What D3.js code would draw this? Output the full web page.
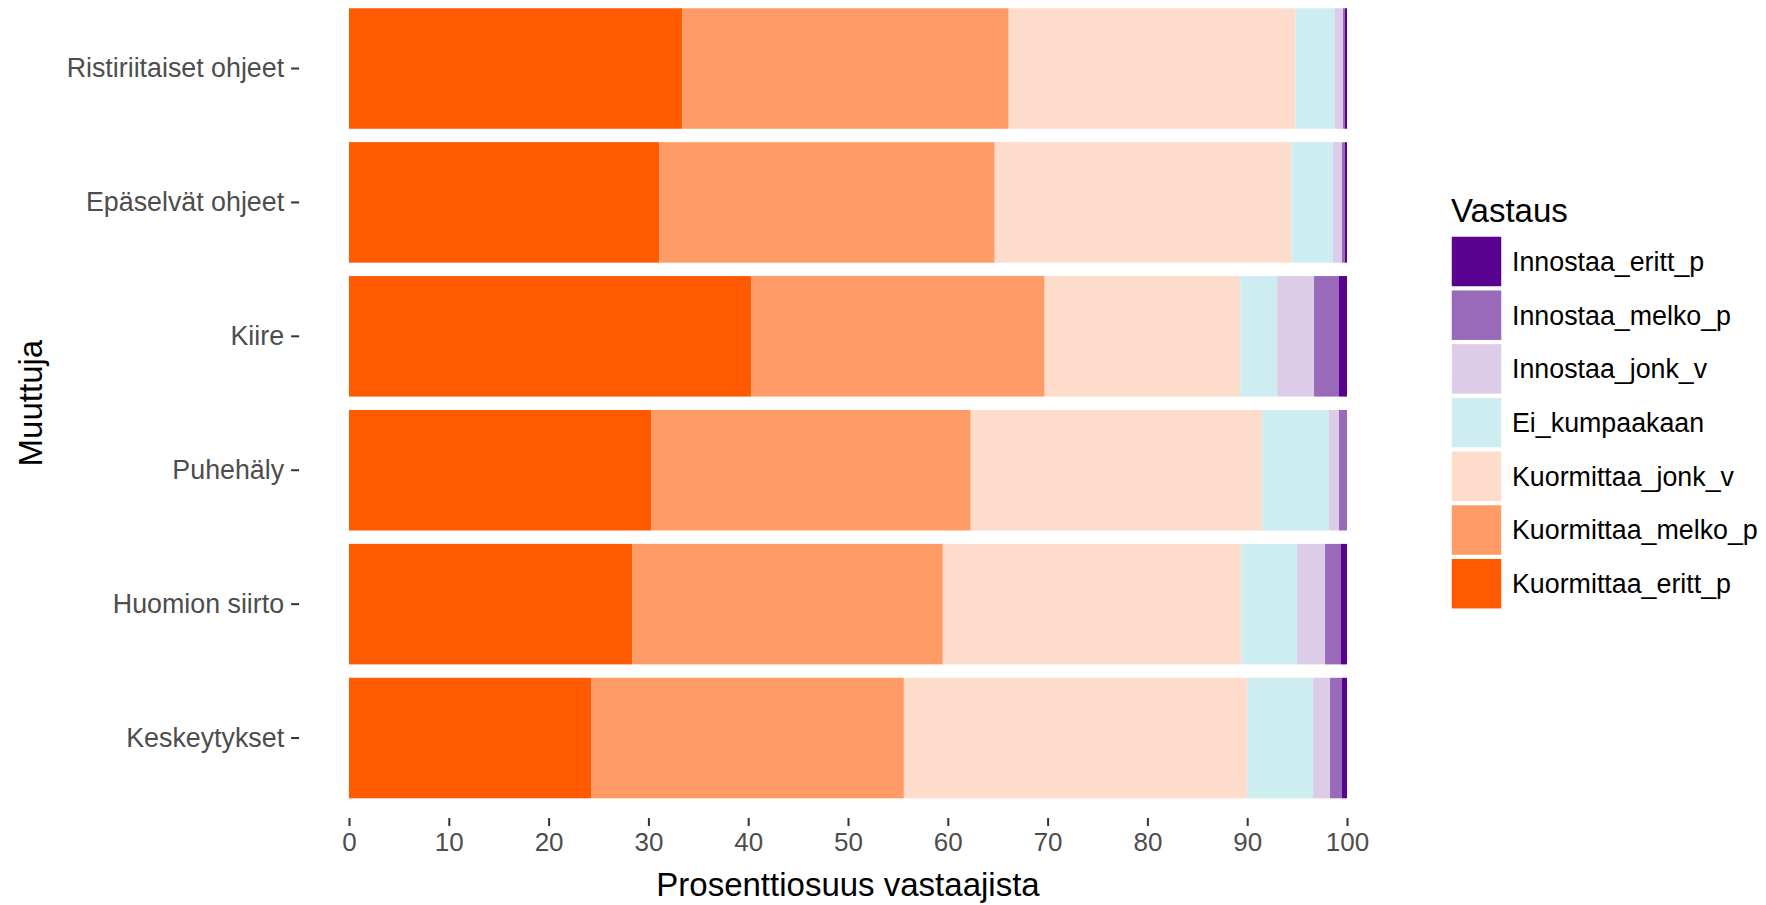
<!DOCTYPE html>
<html>
<head>
<meta charset="utf-8">
<script src="https://cdn.jsdelivr.net/npm/d3@7"></script>
<style>
  body { margin: 0; background: #fff; }
  svg text { font-family: "Liberation Sans", Arial, Helvetica, sans-serif; }
</style>
</head>
<body>
<div id="app"></div>
<script>
"use strict";

// categories, top to bottom
const categories = ["Ristiriitaiset ohjeet", "Epäselvät ohjeet", "Kiire", "Puhehäly", "Huomion siirto", "Keskeytykset"];

// series values (percent of respondents), same order as categories
const kuormittaaErittP = [33.4, 31.1, 40.3, 30.3, 28.4, 24.3];
const kuormittaaMelkoP = [32.7, 33.6, 29.4, 32.0, 31.1, 31.3];
const kuormittaaJonkV = [28.75, 29.75, 19.6, 29.2, 29.9, 34.4];
const eiKumpaakaan = [3.9, 4.15, 3.7, 6.7, 5.6, 6.6];
const innostaaJonkV = [0.85, 0.9, 3.7, 1.0, 2.8, 1.7];
const innostaaMelkoP = [0.2, 0.3, 2.5, 0.8, 1.6, 1.2];
const innostaaErittP = [0.2, 0.2, 0.8, 0.0, 0.6, 0.5];

// stacking order, left to right
const seriesNames = ["Kuormittaa_eritt_p", "Kuormittaa_melko_p", "Kuormittaa_jonk_v", "Ei_kumpaakaan",
    "Innostaa_jonk_v", "Innostaa_melko_p", "Innostaa_eritt_p"];
const seriesColors = ["#ff5a00", "#ff9b67", "#fedccb", "#cdedf1", "#ddcce8", "#9a6aba", "#590290"];
const xTicks = [0, 10, 20, 30, 40, 50, 60, 70, 80, 90, 100];

const seriesValues = [kuormittaaErittP, kuormittaaMelkoP, kuormittaaJonkV, eiKumpaakaan,
    innostaaJonkV, innostaaMelkoP, innostaaErittP];

const rows = categories.map((c, i) => {
    const row = { category: c };
    seriesNames.forEach((s, j) => { row[s] = seriesValues[j][i]; });
    return row;
});

const width = 1766, height = 905;
const svg = d3.select('#app').append('svg')
    .attr('width', width)
    .attr('height', height);

// ggplot-like panel with 5% expansion on x
const x = d3.scaleLinear().domain([0, 100]).range([349, 1347]);
const panelLeft = x(-5), panelBottom = 818;

const y = d3.scaleBand()
    .domain(categories)
    .range([1.55, 805])
    .paddingInner(0.1)
    .paddingOuter(0.05);

const color = d3.scaleOrdinal().domain(seriesNames).range(seriesColors);

const stacked = d3.stack().keys(seriesNames)(rows);

// Bars
svg.append('g')
    .selectAll('g')
    .data(stacked)
    .join('g')
    .attr('fill', d => color(d.key))
    .selectAll('rect')
    .data(d => d)
    .join('rect')
    .attr('x', d => x(d[0]))
    .attr('y', d => y(d.data.category))
    .attr('width', d => Math.max(0, x(d[1]) - x(d[0])))
    .attr('height', y.bandwidth());

// X axis
const xAxis = svg.append('g')
    .attr('transform', `translate(0,${panelBottom})`)
    .call(d3.axisBottom(x).tickValues(xTicks).tickSize(8).tickPadding(7).tickFormat(d3.format('d')));
xAxis.select('.domain').remove();
xAxis.selectAll('.tick line').attr('stroke', '#333').attr('stroke-width', 2);
xAxis.selectAll('.tick text')
    .attr('fill', '#4d4d4d')
    .style('font-size', '26px');

// Y axis
const yAxis = svg.append('g')
    .attr('transform', `translate(${panelLeft},0)`)
    .call(d3.axisLeft(y).tickSize(8).tickPadding(7));
yAxis.select('.domain').remove();
yAxis.selectAll('.tick line').attr('stroke', '#333').attr('stroke-width', 2);
yAxis.selectAll('.tick text')
    .attr('fill', '#4d4d4d')
    .style('font-size', '26.8px');

// Axis titles
svg.append('text')
    .attr('x', (panelLeft + x(105)) / 2)
    .attr('y', 896)
    .attr('text-anchor', 'middle')
    .attr('fill', '#000')
    .style('font-size', '33px')
    .text('Prosenttiosuus vastaajista');

svg.append('text')
    .attr('transform', `translate(42,${(panelBottom - 11.8) / 2}) rotate(-90)`)
    .attr('text-anchor', 'middle')
    .attr('fill', '#000')
    .style('font-size', '33px')
    .text('Muuttuja');

// Legend (reverse order, like ggplot)
const legend = svg.append('g').attr('transform', 'translate(1451,0)');
legend.append('text')
    .attr('x', 0)
    .attr('y', 222)
    .attr('fill', '#000')
    .style('font-size', '33px')
    .text('Vastaus');

const legendNames = seriesNames.slice().reverse();
const keyStep = 53.7;
const item = legend.selectAll('g.item')
    .data(legendNames)
    .join('g')
    .attr('class', 'item')
    .attr('transform', (d, i) => `translate(0,${236 + i * keyStep})`);
item.append('rect')
    .attr('width', 51)
    .attr('height', 51)
    .attr('fill', d => color(d))
    .attr('stroke', '#fff')
    .attr('stroke-width', 1.5);
item.append('text')
    .attr('x', 61)
    .attr('y', 25.5)
    .attr('dy', '0.35em')
    .attr('fill', '#000')
    .style('font-size', '26.8px')
    .text(d => d);
</script>
</body>
</html>
